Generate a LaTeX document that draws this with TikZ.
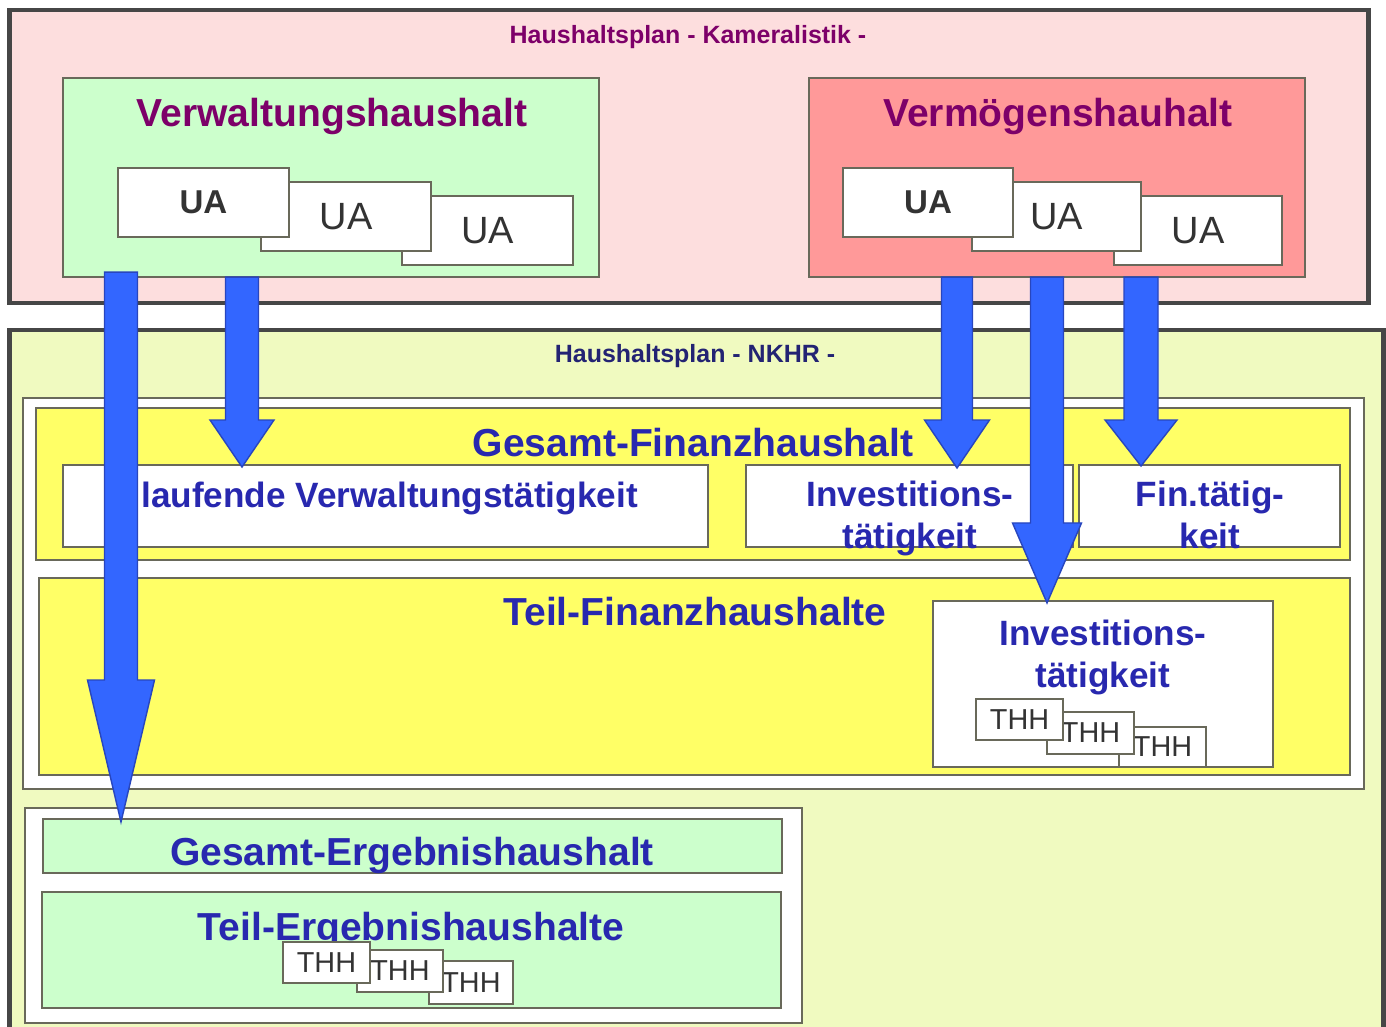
\documentclass[tikz,border=0pt]{standalone}
\usepackage{xcolor}
\usepackage{fontspec}
\setmainfont{Liberation Sans}
\usetikzlibrary{calc}

\definecolor{rahmen}{RGB}{70,70,70}
\definecolor{linie}{RGB}{105,105,90}
\definecolor{rosa}{RGB}{253,222,222}
\definecolor{gruen}{RGB}{204,255,204}
\definecolor{lachs}{RGB}{255,153,153}
\definecolor{hellgelb}{RGB}{240,250,192}
\definecolor{gelb}{RGB}{255,255,102}
\definecolor{lila}{RGB}{125,0,105}
\definecolor{blautext}{RGB}{40,40,175}
\definecolor{navy}{RGB}{35,35,115}
\definecolor{pfeil}{RGB}{51,102,255}
\definecolor{pfeilrand}{RGB}{40,70,190}

\newcommand\fsize[2]{\fontsize{#1}{#2}\selectfont}
% block arrow: start, tip, half shaft, half head, head length
\newcommand\blockpfeil[5]{%
  \filldraw[pfeilstil] ($(#1)+(-#3,0)$) -- ($(#2)+(-#3,-#5)$) -- ($(#2)+(-#4,-#5)$)
    -- (#2) -- ($(#2)+(#4,-#5)$) -- ($(#2)+(#3,-#5)$) -- ($(#1)+(#3,0)$) -- cycle;}

\begin{document}
\begin{tikzpicture}[x=0.01cm,y=-0.01cm,
    frame/.style={draw=rahmen,line width=1.2pt,inner sep=0pt,outer sep=0pt},
    box/.style={draw=linie,line width=0.6pt,inner sep=0pt,outer sep=0pt},
    ua/.style={box,fill=white,text=black!80},
    thh/.style={box,fill=white,text=black!80,font=\fsize{8.2pt}{9pt}},
    ttl/.style={font=\bfseries\fsize{11.1pt}{13pt}},
    sub/.style={font=\bfseries\fsize{10pt}{11.8pt},text=blautext,align=center},
    kopf/.style={font=\bfseries\fsize{7.1pt}{8.5pt}},
    pfeilstil/.style={fill=pfeil,draw=pfeilrand,line width=0.4pt}]
  \useasboundingbox (0,0) rectangle (1386,1026);
  \clip (0,0) rectangle (1386,1026);

  %Kameralistik
  \node[frame,fill=rosa,minimum width=13.58cm,minimum height=2.93cm] (kam) at (689,156.5) {};
  \node[kopf,text=lila,anchor=base] (kamT) at (688,43) {Haushaltsplan - Kameralistik -};

  \node[box,fill=gruen,minimum width=5.36cm,minimum height=1.99cm] (vwh) at (331,177.5) {};
  \node[ttl,text=lila,anchor=base] (vwhT) at (332,126) {Verwaltungshaushalt};
  \node[ua,font=\fsize{10.8pt}{13pt},minimum width=1.71cm,minimum height=0.69cm] (ua3) at (487.5,230.5) {UA};
  \node[ua,font=\fsize{10.8pt}{13pt},minimum width=1.70cm,minimum height=0.69cm] (ua2) at (346,216.5) {UA};
  \node[ua,font=\bfseries\fsize{9.4pt}{11pt},minimum width=1.71cm,minimum height=0.69cm] (ua1) at (203.5,202.5) {UA};

  \node[box,fill=lachs,minimum width=4.96cm,minimum height=1.99cm] (vmh) at (1057,177.5) {};
  \node[ttl,text=lila,anchor=base] (vmhT) at (1058,126) {Vermögenshauhalt};
  \node[ua,font=\fsize{10.8pt}{13pt},minimum width=1.68cm,minimum height=0.69cm] (ub3) at (1198,230.5) {UA};
  \node[ua,font=\fsize{10.8pt}{13pt},minimum width=1.69cm,minimum height=0.69cm] (ub2) at (1056.5,216.5) {UA};
  \node[ua,font=\bfseries\fsize{9.4pt}{11pt},minimum width=1.70cm,minimum height=0.69cm] (ub1) at (928,202.5) {UA};

  %NKHR
  \node[frame,fill=hellgelb,minimum width=13.73cm,minimum height=7.2cm] (nkhr) at (696.5,690) {};
  \node[kopf,text=navy,anchor=base] (nkhrT) at (695,362) {Haushaltsplan - NKHR -};

  \node[box,fill=white,minimum width=13.41cm,minimum height=3.91cm] (fh) at (693.5,593.5) {};
  \node[box,fill=gelb,minimum width=13.14cm,minimum height=1.52cm] (gfh) at (693,484) {};
  \node[ttl,text=blautext,anchor=base] (gfhT) at (693,456) {Gesamt-Finanzhaushalt};
  \node[box,fill=white,minimum width=6.45cm,minimum height=0.82cm] (lvt) at (385.5,506) {};
  \node[sub,anchor=base west] (lvtT) at (129,507) {laufende Verwaltungstätigkeit};
  \node[box,fill=white,minimum width=3.27cm,minimum height=0.82cm] (inv) at (909.5,506) {};
  \node[sub,anchor=base] (invT) at (910,548) {Investitions-\\tätigkeit};
  \node[box,fill=white,minimum width=2.61cm,minimum height=0.82cm] (fin) at (1209.5,506) {};
  \node[sub,anchor=base] (finT) at (1210,548) {Fin.tätig-\\keit};

  \node[box,fill=gelb,minimum width=13.11cm,minimum height=1.97cm] (tfh) at (694.5,676.5) {};
  \node[ttl,text=blautext,anchor=base] (tfhT) at (695,625) {Teil-Finanzhaushalte};
  \node[box,fill=white,minimum width=3.40cm,minimum height=1.66cm] (tinv) at (1103,684) {};
  \node[sub,anchor=base] (tinvT) at (1103,687) {Investitions-\\tätigkeit};
  \node[thh,minimum width=0.87cm,minimum height=0.40cm] (tf3) at (1162.5,747) {THH};
  \node[thh,minimum width=0.87cm,minimum height=0.42cm] (tf2) at (1090.5,733) {THH};
  \node[thh,minimum width=0.87cm,minimum height=0.41cm] (tf1) at (1019.5,719.5) {THH};

  \node[box,fill=white,minimum width=7.77cm,minimum height=2.15cm] (eh) at (413.5,915.5) {};
  \node[box,fill=gruen,minimum width=7.39cm,minimum height=0.54cm] (geh) at (412.5,846) {};
  \node[ttl,text=blautext,anchor=base] (gehT) at (412,865) {Gesamt-Ergebnishaushalt};
  \node[box,fill=gruen,minimum width=7.39cm,minimum height=1.16cm] (teh) at (411.5,950) {};
  \node[ttl,text=blautext,anchor=base] (tehT) at (411,940) {Teil-Ergebnishaushalte};
  \node[thh,minimum width=0.84cm,minimum height=0.43cm] (te3) at (471,982.5) {THH};
  \node[thh,minimum width=0.86cm,minimum height=0.42cm] (te2) at (400,971) {THH};
  \node[thh,minimum width=0.87cm,minimum height=0.41cm] (te1) at (326.5,962.5) {THH};

  %arrows
  \coordinate (p1) at (121,0);
  \coordinate (p2) at (242,0);
  \coordinate (p3) at (957,0);
  \coordinate (p4) at (1047,0);
  \coordinate (p5) at (1141,0);
  \coordinate (a1) at ($(vwh.south -| p1)+(0,-5)$);
  \coordinate (b1) at ($(geh.north -| p1)+(0,3)$);
  \coordinate (a2) at (vwh.south -| p2);
  \coordinate (b2) at ($(lvt.north -| p2)+(0,2)$);
  \coordinate (a3) at (vmh.south -| p3);
  \coordinate (b3) at ($(inv.north -| p3)+(0,3)$);
  \coordinate (a4) at (vmh.south -| p4);
  \coordinate (b4) at ($(tinv.north -| p4)+(0,2)$);
  \coordinate (a5) at (vmh.south -| p5);
  \coordinate (b5) at ($(fin.north -| p5)+(0,1)$);
  \blockpfeil{a1}{b1}{16.5}{33.5}{142}
  \blockpfeil{a2}{b2}{16.5}{32}{47}
  \blockpfeil{a3}{b3}{15.5}{32.5}{48}
  \blockpfeil{a4}{b4}{16.5}{34.5}{80}
  \blockpfeil{a5}{b5}{17}{36}{46}
\end{tikzpicture}
\end{document}
